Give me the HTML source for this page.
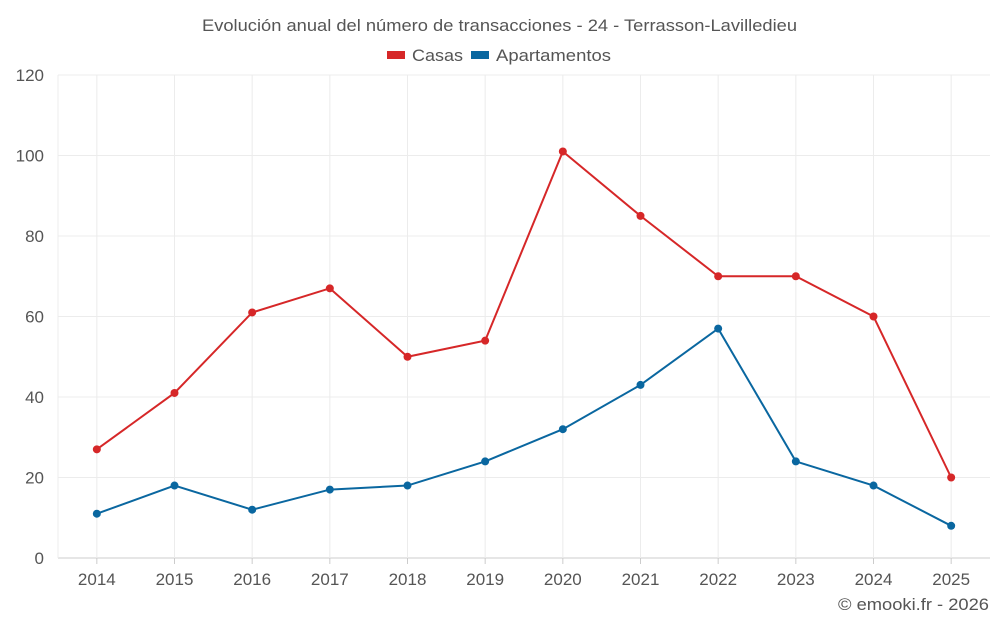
<!DOCTYPE html>
<html><head><meta charset="utf-8"><style>
body{margin:0;background:#fff;font-family:"Liberation Sans",sans-serif;}
svg text{font-family:"Liberation Sans",sans-serif;fill:#555;}
</style></head><body>
<svg id="c" width="1000" height="625">
<text x="202" y="31" textLength="595" lengthAdjust="spacingAndGlyphs" font-size="17">Evolución anual del número de transacciones - 24 - Terrasson-Lavilledieu</text>
<g>
<g><rect x="387" y="51" width="18" height="8" fill="#d62728"/><text x="412" y="61" textLength="51" lengthAdjust="spacingAndGlyphs" font-size="17">Casas</text></g>
<g><rect x="471" y="51" width="18" height="8" fill="#0a67a0"/><text x="496" y="61" textLength="115" lengthAdjust="spacingAndGlyphs" font-size="17">Apartamentos</text></g>
</g>
<g id="grid"></g><g id="axes"></g><g id="series"></g>
<text x="838" y="610" textLength="151" lengthAdjust="spacingAndGlyphs" font-size="17">© emooki.fr - 2026</text>
</svg>
<script>
const years=[2014,2015,2016,2017,2018,2019,2020,2021,2022,2023,2024,2025];
const casas=[27,41,61,67,50,54,101,85,70,70,60,20];
const apartamentos=[11,18,12,17,18,24,32,43,57,24,18,8];
const yTicks=[0,20,40,60,80,100,120];
const L=58,R=990,T=75,B=558,yMax=120;
const ns="http://www.w3.org/2000/svg";
const xs=i=>L+(R-L)/years.length*(i+0.5);
const ys=v=>B-(B-T)*v/yMax;
function mk(t,a,p){const e=document.createElementNS(ns,t);for(const k in a)e.setAttribute(k,a[k]);p.appendChild(e);return e;}
const g=document.getElementById('grid'),ax=document.getElementById('axes'),s=document.getElementById('series');
yTicks.forEach(v=>{
 const l=mk('line',{x1:L,x2:R,y1:ys(v),y2:ys(v),stroke:v?'#ececec':'#ccc'},g);
 
 
 const t=mk('text',{x:44,y:ys(v)+6,'text-anchor':'end','font-size':17},ax);t.textContent=v;
 
 
});
years.forEach((y,i)=>{
 const l=mk('line',{x1:xs(i),x2:xs(i),y1:T,y2:B,stroke:'#ececec'},g);
 
 
 const tk=mk('line',{x1:xs(i),x2:xs(i),y1:B,y2:B+6,stroke:'#ccc'},ax);
 
 
 const t=mk('text',{x:xs(i),y:585,'text-anchor':'middle','font-size':17},ax);t.textContent=y;
 
 
});
const yl=mk('line',{x1:L,x2:L,y1:T,y2:B,stroke:'#ececec'},g);


[[casas,'#d62728','casas'],[apartamentos,'#0a67a0','apartamentos']].forEach(([d,c,n])=>{
 const p=mk('polyline',{points:d.map((v,i)=>xs(i)+','+ys(v)).join(' '),fill:'none',stroke:c,'stroke-width':2},s);
 
 
 d.forEach((v,i)=>{
  const m=mk('circle',{cx:xs(i),cy:ys(v),r:4,fill:c},s);
  
  
 });
});
</script>
</body></html>
